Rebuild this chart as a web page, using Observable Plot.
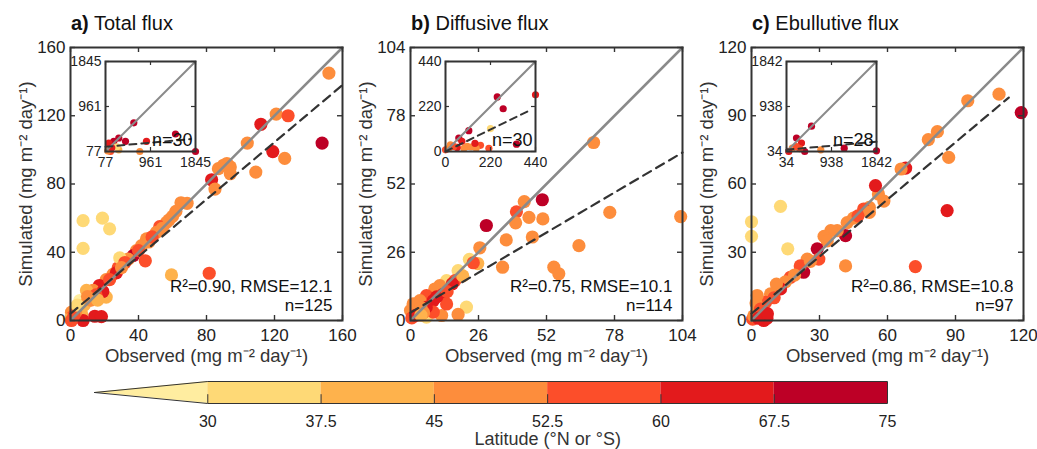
<!DOCTYPE html>
<html><head><meta charset="utf-8">
<script src="https://cdn.jsdelivr.net/npm/d3@7"></script>
<script src="https://cdn.jsdelivr.net/npm/@observablehq/plot@0.6"></script>
<style>
body{margin:0;background:#fff;}
#fig{position:relative;width:1037px;height:449px;background:#fff;font-family:"Liberation Sans",Arial,sans-serif;color:#222;overflow:hidden}
.ttl{position:absolute;top:13px;font-size:20px;line-height:1;white-space:nowrap;color:#111}
#fig svg{position:absolute}
</style></head><body><div id="fig"></div>
<script>
const FONT = '"Liberation Sans", Arial, sans-serif';

// Latitude classes (colour bar)
const latBreaks = [30, 37.5, 45, 52.5, 60, 67.5];
const latTicks = [30, 37.5, 45, 52.5, 60, 67.5, 75];
const latColors = ["#FFEDA0", "#FED976", "#FEB24C", "#FD8D3C", "#FC4E2A", "#E31A1C", "#BD0026"];

// Panel titles / labels
const titles = [["a)", "Total flux"], ["b)", "Diffusive flux"], ["c)", "Ebullutive flux"]];
const xLabel = "Observed (mg m⁻² day⁻¹)";
const yLabel = "Simulated (mg m⁻² day⁻¹)";
const statsText = ["R²=0.90, RMSE=12.1", "R²=0.75, RMSE=10.1", "R²=0.86, RMSE=10.8"];
const nText = ["n=125", "n=114", "n=97"];
const insetNText = ["n=30", "n=30", "n=28"];

// Axis ticks
const ticksA = [0, 40, 80, 120, 160];
const ticksB = [0, 26, 52, 78, 104];
const ticksC = [0, 30, 60, 90, 120];
const insTicksA = [77, 961, 1845];
const insTicksB = [0, 220, 440];
const insTicksC = [34, 938, 1842];

// Panel a data
const obsA = [152,121,128,112,148,119,126,104,109,90,94,87,94,92,83,85,68.6,65,62,56.5,52.5,50.6,44.7,41.8,38.8,36.9,34,31,28,25,21,17,13.3,9.4,21,19,5.5,3.5,0.6,1,6.5,0,7.4,18.8,23,7.4,29,44,59.4,81.6,14.3,18.2,7.4,46,48,54,58,60,40,32,27,23,30,15,11,8,10,3,2,0.6,12,16,4];
const simA = [145,121,120,115,104,99,95,104,87,91,90,89,86,92,82.5,77,68.7,69,64,57.5,55,51.7,47.8,43.9,41,38,36,33,30.8,27,24,20.5,17.6,17.6,13.7,17,11.7,7.8,4.9,2,4,1,58.5,60,53.7,42.3,36.7,35,26.7,27.7,2.5,2.3,0,46,49,54,59,61,41,34,28,24,31,15,12,9,14,5,3,0,12,12,9];
const latA = [49,49,56,64,71,64,49,49,49,49,49,49,49,49,64,49,49,49,49,49,56,49,49,49,49,71,49,49,56,49,49,64,49,41,41,64,27,34,49,56,41,41,34,34,34,34,34,56,41,56,64,64,64,49,56,49,49,49,56,56,64,56,49,56,49,41,49,49,56,56,49,41,34];
const fitAx = [0, 160], fitAy = [4, 138];

// Panel b data
const obsB = [70,76.2,103.3,64.4,54.8,56.7,50.4,43.5,40.5,45.3,50.6,40.2,46.6,36.6,29,35.2,26.5,22.5,25.7,18.2,13.8,17,16,11.2,9.3,12.5,6.1,3.6,8.7,1,21.4,18.2,11.9,6.1,8.7,2.3,0,0.5,13.8,6,4,10,14,20,24,2,5,4];
const simB = [67.8,41.2,39.6,28.5,20.3,17.8,46,45.3,41.4,39.3,38.7,37.2,31.8,30.7,36.2,20.3,27.7,23.3,21.7,19,15.2,15.2,14,13.3,12,10,9.5,7.6,7.6,6.3,5.1,2.3,1.9,1.3,3.2,3.2,3.8,1,6.3,5,5,9,11,17,22,2,3,2];
const latB = [49,49,49,49,49,49,71,49,56,49,49,49,49,49,71,49,49,34,41,34,34,56,64,49,49,64,56,49,64,49,34,49,49,34,56,56,49,56,56,64,49,64,56,41,56,64,49,41];
const fitBx = [0, 104], fitBy = [3, 64];

// Panel c data
const obsC = [109.2,119,95.4,82,78,87,68,66,86.3,72.3,58.4,56,54.7,52,49.5,52,41.5,42.2,37.8,35,32,41.5,0,0,12.8,16,33.4,29,29.7,24.6,23,21.5,17.2,15,12.8,11,8.4,6.2,2.5,2,2.5,0.5,5.4,6.8,4,1,45,47,26,19,10,4,3,7];
const simC = [99.5,91.4,96.6,83,79.5,71.7,67,66.6,48.3,23.7,52.5,55.6,59.3,49.7,49,47.5,37.3,43,39.5,39.5,37,24,43.4,37,50.2,31.5,35,31.5,27,27,21.2,24,19,17,13.9,16,11.7,8,11,7.7,3.6,0.6,0,1,2,2,45,46,26,20,10,5,1,3];
const latC = [49,71,49,49,49,49,64,49,64,56,49,49,64,49,56,49,71,49,49,49,49,49,34,34,34,34,49,71,56,49,71,56,56,49,64,49,49,56,49,49,49,56,64,64,71,49,49,56,49,49,56,56,64,64];
const fitCx = [0, 113.5], fitCy = [3, 98];

// Inset data
const insObsA = [633,1452,882,1845,751,240,338,142,470,338,175,120,300,200];
const insSimA = [640,421,276,77,77,276,342,243,276,110,77,90,170,150];
const insLatA = [71,71,64,71,49,71,71,64,71,41,56,49,34,64];
const insFitAx = [77, 1750], insFitAy = [170, 321];

const insObsB = [253,440,282,114,220,347,65,80,24,106,125,171,212,150,90,0,16,57,144,40];
const insSimB = [267,277,209,102,112,36,66,50,33,25,22,30,16,16,16,8,16,20,40,25];
const insLatB = [71,64,71,71,34,71,71,64,49,49,49,56,56,49,49,56,49,64,64,56];
const insFitBx = [0, 410], insFitBy = [0, 200];

const insObsC = [536,235,1193,1842,723,335,400,150,235,80,300];
const insSimC = [542,304,101,48,68,203,34,100,130,34,90];
const insLatC = [71,71,71,71,49,64,71,49,56,64,56];
const insFitCx = [34, 1842], insFitCy = [70, 230];

const colorScale = {type: "threshold", domain: latBreaks, range: latColors};
const baseStyle = {background: "transparent", overflow: "visible", fontFamily: FONT, fontSize: "17px", color: "#222"};
const fmt = d => String(d);

function rows(obs, sim, lat) { return obs.map((o, i) => ({obs: o, sim: sim[i], lat: lat[i]})); }
function pairs(xs, ys) { return xs.map((x, i) => ({x, y: ys[i]})); }

function inTicks(ticks, lo, hi, frac, sw) {
  const L = (hi - lo) * frac;
  const o = {stroke: "#333", strokeWidth: sw};
  return [
    Plot.ruleX(ticks, {x: d => d, y1: lo, y2: lo + L, ...o}),
    Plot.ruleX(ticks, {x: d => d, y1: hi - L, y2: hi, ...o}),
    Plot.ruleY(ticks, {y: d => d, x1: lo, x2: lo + L, ...o}),
    Plot.ruleY(ticks, {y: d => d, x1: hi - L, x2: hi, ...o})
  ];
}

function mainPanel(ticks, data, fit, stats, n) {
  const dom = [ticks[0], ticks[ticks.length - 1]];
  return Plot.plot({
    width: 350, height: 370, marginLeft: 70, marginRight: 8, marginTop: 47, marginBottom: 50,
    x: {domain: dom, label: null}, y: {domain: dom, label: null},
    color: colorScale, style: baseStyle,
    marks: [
      Plot.dot(data, {x: "obs", y: "sim", fill: "lat", r: 6.6}),
      Plot.line(pairs(dom, dom), {x: "x", y: "y", stroke: "#8a8a8a", strokeWidth: 2.5}),
      Plot.line(fit, {x: "x", y: "y", stroke: "#333", strokeWidth: 2.2, strokeDasharray: "9,6"}),
      ...inTicks(ticks, dom[0], dom[1], 5 / 272, 1.4),
      Plot.axisX(ticks, {tickSize: 0, tickPadding: 8, fontSize: 17, label: null, tickFormat: fmt}),
      Plot.axisY(ticks, {tickSize: 0, tickPadding: 5, fontSize: 17, label: null, tickFormat: fmt}),
      Plot.frame({stroke: "#333", strokeWidth: 2}),
      Plot.text([stats], {frameAnchor: "bottom-right", textAnchor: "end", lineAnchor: "middle", dx: -10, dy: -34, fontSize: 17, fill: "#111"}),
      Plot.text([n], {frameAnchor: "bottom-right", textAnchor: "end", lineAnchor: "middle", dx: -10, dy: -15, fontSize: 17, fill: "#111"}),
      Plot.text([xLabel], {frameAnchor: "bottom", textAnchor: "middle", lineAnchor: "middle", dy: 36, fontSize: 18.5, fill: "#333"}),
      Plot.text([yLabel], {frameAnchor: "left", textAnchor: "middle", lineAnchor: "middle", dx: -44, rotate: -90, fontSize: 18.5, fill: "#333"})
    ]
  });
}

function insetPanel(ticks, data, fit, n) {
  const dom = [ticks[0], ticks[ticks.length - 1]];
  return Plot.plot({
    width: 145, height: 126, marginLeft: 40, marginRight: 15, marginTop: 10, marginBottom: 26,
    x: {domain: dom, label: null}, y: {domain: dom, label: null},
    color: colorScale, style: {...baseStyle, fontSize: "14px"},
    marks: [
      Plot.frame({fill: "white"}),
      Plot.dot(data, {x: "obs", y: "sim", fill: "lat", r: 3.6}),
      Plot.line(pairs(dom, dom), {x: "x", y: "y", stroke: "#8a8a8a", strokeWidth: 2}),
      Plot.line(fit, {x: "x", y: "y", stroke: "#333", strokeWidth: 2, strokeDasharray: "7,5"}),
      ...inTicks(ticks, dom[0], dom[1], 4 / 90, 1.2),
      Plot.axisX(ticks, {tickSize: 0, tickPadding: 6, fontSize: 14, label: null, tickFormat: fmt}),
      Plot.axisY(ticks, {tickSize: 0, tickPadding: 4, fontSize: 14, label: null, tickFormat: fmt}),
      Plot.frame({stroke: "#333", strokeWidth: 2}),
      Plot.text([n], {frameAnchor: "bottom-right", textAnchor: "end", lineAnchor: "middle", dx: -3, dy: -11, fontSize: 18, fill: "#111"})
    ]
  });
}

function colorBar() {
  const tip = latTicks[0] - (latTicks[1] - latTicks[0]);
  const last = latTicks[latTicks.length - 1];
  const segs = latTicks.slice(0, -1).map((v, i) => ({x1: v, x2: latTicks[i + 1], mid: (v + latTicks[i + 1]) / 2}));
  const tri = [{x: tip, y1: 0.5, y2: 0.5}, {x: latTicks[0], y1: 0, y2: 1}];
  const outline = [{x: tip, y: 0.5}, {x: latTicks[0], y: 1}, {x: last, y: 1}, {x: last, y: 0}, {x: latTicks[0], y: 0}, {x: tip, y: 0.5}];
  return Plot.plot({
    width: 1037, height: 79, marginLeft: 94, marginRight: 150, marginTop: 11, marginBottom: 46,
    x: {domain: [tip, last], label: null}, y: {domain: [0, 1], axis: null},
    color: colorScale, style: baseStyle,
    marks: [
      Plot.areaY(tri, {x: "x", y1: "y1", y2: "y2", fill: latColors[0]}),
      Plot.rect(segs, {x1: "x1", x2: "x2", y1: 0, y2: 1, fill: "mid"}),
      Plot.ruleX(latTicks, {x: d => d, y1: 0, y2: 0.4, stroke: "#333", strokeWidth: 1}),
      Plot.line(outline, {x: "x", y: "y", stroke: "#333", strokeWidth: 1}),
      Plot.axisX(latTicks, {tickSize: 0, tickPadding: 12, fontSize: 16, label: null, tickFormat: fmt}),
      Plot.text(["Latitude (°N or °S)"], {x: (latTicks[0] + last) / 2, frameAnchor: "bottom", textAnchor: "middle", lineAnchor: "middle", dy: 36, fontSize: 18, fill: "#333"})
    ]
  });
}

const fig = document.getElementById("fig");
const frameLefts = [70, 410, 751];
const panels = [
  mainPanel(ticksA, rows(obsA, simA, latA), pairs(fitAx, fitAy), statsText[0], nText[0]),
  mainPanel(ticksB, rows(obsB, simB, latB), pairs(fitBx, fitBy), statsText[1], nText[1]),
  mainPanel(ticksC, rows(obsC, simC, latC), pairs(fitCx, fitCy), statsText[2], nText[2])
];
const insets = [
  insetPanel(insTicksA, rows(insObsA, insSimA, insLatA), pairs(insFitAx, insFitAy), insetNText[0]),
  insetPanel(insTicksB, rows(insObsB, insSimB, insLatB), pairs(insFitBx, insFitBy), insetNText[1]),
  insetPanel(insTicksC, rows(insObsC, insSimC, insLatC), pairs(insFitCx, insFitCy), insetNText[2])
];
panels.forEach((p, i) => { p.style.left = (frameLefts[i] - 70) + "px"; p.style.top = "0px"; fig.appendChild(p); });
insets.forEach((p, i) => { p.style.left = (frameLefts[i] + 35 - 40) + "px"; p.style.top = "51px"; fig.appendChild(p); });
titles.forEach((t, i) => {
  const d = document.createElement("div");
  d.className = "ttl";
  d.style.left = (frameLefts[i] + 1) + "px";
  const b = document.createElement("b"); b.textContent = t[0];
  d.appendChild(b); d.appendChild(document.createTextNode(" " + t[1]));
  fig.appendChild(d);
});
const cb = colorBar();
cb.style.left = "0px"; cb.style.top = "370px";
fig.appendChild(cb);
</script></body></html>
